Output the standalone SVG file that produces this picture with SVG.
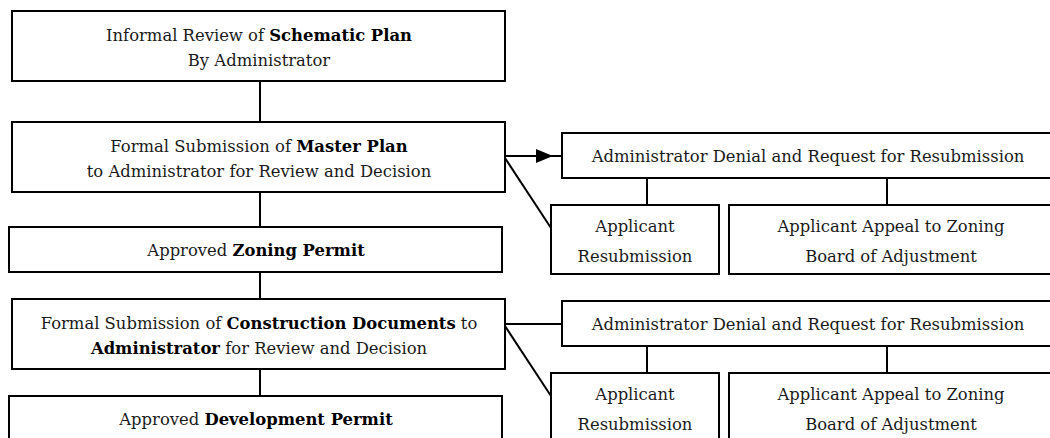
<svg xmlns="http://www.w3.org/2000/svg" width="1050" height="438" viewBox="0 0 1050 438">
<style>
  .box { fill: #ffffff; stroke: #000000; stroke-width: 2; }
  .ln { fill: none; stroke: #000000; stroke-width: 2; }
  .t { font-family: 'DejaVu Serif', serif; font-size: 16.4px; fill: #1a1a1a; text-anchor: middle; }
  .b { font-weight: bold; fill: #000000; }
</style>
<defs>
  <marker id="arrow" markerUnits="userSpaceOnUse" markerWidth="18" markerHeight="16" refX="17" refY="7" orient="auto">
    <polygon points="0,0 17,7 0,14" fill="#000000"/>
  </marker>
</defs>
<rect width="1050" height="438" fill="#ffffff"/>
<g id="connectors">
  <line class="ln" x1="260" y1="81" x2="260" y2="122"/>
  <line class="ln" x1="260" y1="192" x2="260" y2="227"/>
  <line class="ln" x1="260" y1="272" x2="260" y2="299"/>
  <line class="ln" x1="260" y1="369" x2="260" y2="396"/>
  <path class="ln" d="M505 156 L553 156 L562 156" marker-mid="url(#arrow)"/>
  <line class="ln" x1="505" y1="158" x2="551" y2="228"/>
  <line class="ln" x1="647" y1="178" x2="647" y2="205"/>
  <line class="ln" x1="887" y1="178" x2="887" y2="205"/>
  <line class="ln" x1="505" y1="324" x2="562" y2="324"/>
  <line class="ln" x1="505" y1="326" x2="551" y2="396"/>
  <line class="ln" x1="647" y1="346" x2="647" y2="373"/>
  <line class="ln" x1="887" y1="346" x2="887" y2="373"/>
</g>
<g id="schematic">
  <rect class="box" x="12" y="11" width="493" height="70"/>
  <text class="t" x="259" y="40.5">Informal Review of <tspan class="b">Schematic Plan</tspan></text>
  <text class="t" x="259" y="65.5">By Administrator</text>
</g>
<g id="masterplan">
  <rect class="box" x="12" y="122" width="493" height="70"/>
  <text class="t" x="259" y="151.5">Formal Submission of <tspan class="b">Master Plan</tspan></text>
  <text class="t" x="259" y="176.5">to Administrator for Review and Decision</text>
</g>
<g id="zoning">
  <rect class="box" x="9" y="227" width="493" height="45"/>
  <text class="t" x="256" y="256">Approved <tspan class="b">Zoning Permit</tspan></text>
</g>
<g id="construction">
  <rect class="box" x="12" y="299" width="493" height="70"/>
  <text class="t" x="259" y="328.5">Formal Submission of <tspan class="b">Construction Documents</tspan> to</text>
  <text class="t" x="259" y="353.5"><tspan class="b">Administrator</tspan> for Review and Decision</text>
</g>
<g id="development">
  <rect class="box" x="9" y="396" width="493" height="46"/>
  <text class="t" x="256" y="424.5">Approved <tspan class="b">Development Permit</tspan></text>
</g>
<g id="denial1">
  <rect class="box" x="562" y="133" width="492" height="45"/>
  <text class="t" x="808" y="162">Administrator Denial and Request for Resubmission</text>
</g>
<g id="resub1">
  <rect class="box" x="551" y="205" width="168" height="69"/>
  <text class="t" x="635" y="231.5">Applicant</text>
  <text class="t" x="635" y="261.5">Resubmission</text>
</g>
<g id="appeal1">
  <rect class="box" x="729" y="205" width="325" height="69"/>
  <text class="t" x="891" y="231.5">Applicant Appeal to Zoning</text>
  <text class="t" x="891" y="261.5">Board of Adjustment</text>
</g>
<g id="denial2">
  <rect class="box" x="562" y="301" width="492" height="45"/>
  <text class="t" x="808" y="330">Administrator Denial and Request for Resubmission</text>
</g>
<g id="resub2">
  <rect class="box" x="551" y="373" width="168" height="69"/>
  <text class="t" x="635" y="399.5">Applicant</text>
  <text class="t" x="635" y="429.5">Resubmission</text>
</g>
<g id="appeal2">
  <rect class="box" x="729" y="373" width="325" height="69"/>
  <text class="t" x="891" y="399.5">Applicant Appeal to Zoning</text>
  <text class="t" x="891" y="429.5">Board of Adjustment</text>
</g>
</svg>
